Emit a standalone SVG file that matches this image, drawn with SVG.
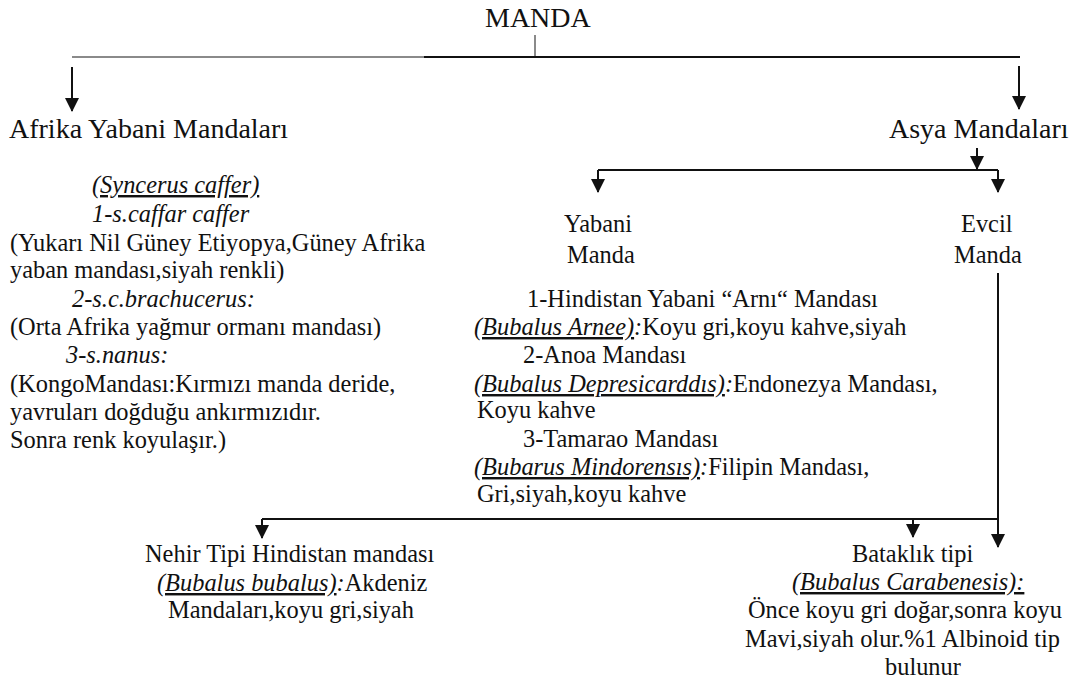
<svg xmlns="http://www.w3.org/2000/svg" width="1073" height="679" viewBox="0 0 1073 679">
  <style>
    text { font-family: 'Liberation Serif', LiberationSerif, 'Times New Roman', Times, 'Noto Serif', 'DejaVu Serif', serif; fill: #111; }
    .title { font-size: 28px; }
    .body { font-size: 24.4px; }
    .it { font-style: italic; }
    .ul { text-decoration: underline; }
    .ln { stroke: #111; stroke-width: 2; fill: none; }
    .gray { stroke: #8a8a8a; stroke-width: 2; fill: none; }
    .arr { marker-end: url(#head); }
  </style>
  <defs>
    <marker id="head" markerUnits="userSpaceOnUse" markerWidth="14" markerHeight="14" refX="13" refY="7" orient="auto" viewBox="0 0 14 14">
      <path d="M0,0 L14,7 L0,14 z" fill="#111"/>
    </marker>
  </defs>
  <rect width="1073" height="679" fill="#fff"/>

  <!-- connectors -->
  <g id="connectors">
    <line class="gray" x1="535" y1="35" x2="535" y2="57"/>
    <line class="gray" x1="72" y1="57" x2="424" y2="57"/>
    <line class="ln" x1="424" y1="57" x2="1020" y2="57"/>
    <line class="ln arr" x1="72" y1="67" x2="72" y2="111"/>
    <line class="ln arr" x1="1019" y1="66" x2="1019" y2="109"/>

    <line class="ln arr" x1="977" y1="148" x2="977" y2="169"/>
    <line class="ln" x1="598" y1="170" x2="998" y2="170"/>
    <line class="ln arr" x1="598" y1="170" x2="598" y2="192"/>
    <line class="ln arr" x1="998" y1="170" x2="998" y2="192"/>

    <line class="ln arr" x1="998" y1="273" x2="998" y2="547"/>
    <line class="ln" x1="262" y1="519" x2="998" y2="519"/>
    <line class="ln arr" x1="262" y1="519" x2="262" y2="538"/>
    <line class="ln arr" x1="913" y1="519" x2="913" y2="537"/>
  </g>

  <g id="manda">
    <text class="title" x="485" y="27" font-family="Liberation Serif">MANDA</text>
  </g>

  <g id="afrika">
    <text class="title" x="9" y="138">Afrika Yabani Mandaları</text>
  </g>

  <g id="asya">
    <text class="title" x="889" y="138">Asya Mandaları</text>
  </g>

  <g id="afrika-turler">
    <text class="body it ul" x="92" y="193">(Syncerus caffer)</text>
    <text class="body it" x="92" y="222">1-s.caffar caffer</text>
    <text class="body" x="10" y="251">(Yukarı Nil Güney Etiyopya,Güney Afrika</text>
    <text class="body" x="10" y="278">yaban mandası,siyah renkli)</text>
    <text class="body it" x="72" y="307">2-s.c.brachucerus:</text>
    <text class="body" x="10" y="335">(Orta Afrika yağmur ormanı mandası)</text>
    <text class="body it" x="66" y="363">3-s.nanus:</text>
    <text class="body" x="10" y="392">(KongoMandası:Kırmızı manda deride,</text>
    <text class="body" x="10" y="420">yavruları doğduğu ankırmızıdır.</text>
    <text class="body" x="10" y="448">Sonra renk koyulaşır.)</text>
  </g>

  <g id="yabani-manda">
    <text class="body" x="564" y="232">Yabani</text>
    <text class="body" x="567" y="263">Manda</text>
  </g>

  <g id="evcil-manda">
    <text class="body" x="961" y="232">Evcil</text>
    <text class="body" x="954" y="263">Manda</text>
  </g>

  <g id="yabani-turler">
    <text class="body" x="527" y="307">1-Hindistan Yabani “Arnı“ Mandası</text>
    <text class="body" x="474" y="335"><tspan class="it ul">(Bubalus Arnee)</tspan><tspan class="it">:</tspan>Koyu gri,koyu kahve,siyah</text>
    <text class="body" x="523" y="363">2-Anoa Mandası</text>
    <text class="body" x="474" y="392"><tspan class="it ul">(Bubalus Depresicarddıs)</tspan><tspan class="it">:</tspan>Endonezya Mandası,</text>
    <text class="body" x="477" y="418">Koyu kahve</text>
    <text class="body" x="523" y="447">3-Tamarao Mandası</text>
    <text class="body" x="474" y="475"><tspan class="it ul">(Bubarus Mindorensıs)</tspan><tspan class="it">:</tspan>Filipin Mandası,</text>
    <text class="body" x="477" y="502">Gri,siyah,koyu kahve</text>
  </g>

  <g id="nehir-tipi">
    <text class="body" x="145" y="562">Nehir Tipi Hindistan mandası</text>
    <text class="body" x="157" y="591"><tspan class="it ul">(Bubalus bubalus)</tspan><tspan class="it">:</tspan>Akdeniz</text>
    <text class="body" x="168" y="618">Mandaları,koyu gri,siyah</text>
  </g>

  <g id="bataklik-tipi">
    <text class="body" x="852" y="562">Bataklık tipi</text>
    <text class="body it ul" x="792" y="590">(Bubalus Carabenesis):</text>
    <text class="body" x="748" y="618">Önce koyu gri doğar,sonra koyu</text>
    <text class="body" x="745" y="647">Mavi,siyah olur.%1 Albinoid tip</text>
    <text class="body" x="885" y="675">bulunur</text>
  </g>
</svg>
